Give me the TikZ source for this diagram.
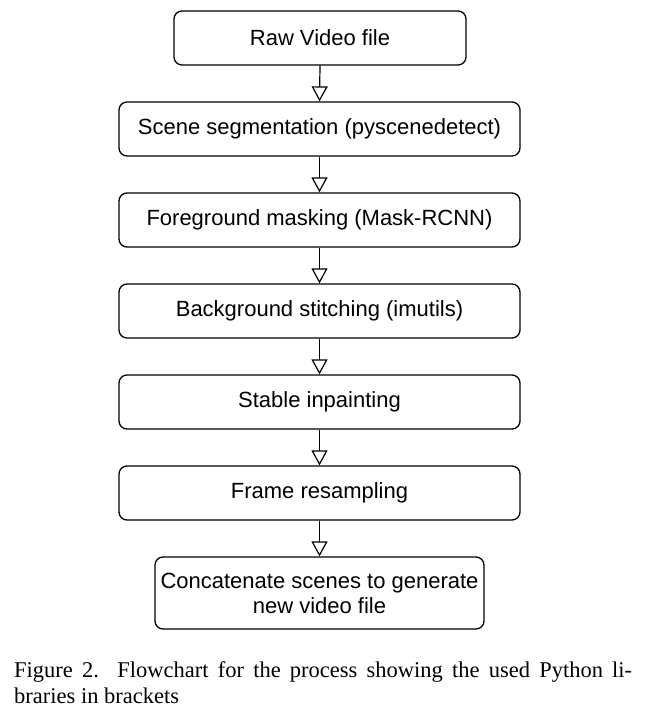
\documentclass[tikz,border=0pt]{standalone}
\usepackage{fontspec}
\setmainfont{Liberation Serif}
\setsansfont{Liberation Sans}
\usetikzlibrary{arrows.meta}
\begin{document}
\begin{tikzpicture}[x=1pt,y=-1pt,
  stepbox/.style={draw, line width=1.3pt, rounded corners=8pt, font=\sffamily\fontsize{22}{25}\selectfont, align=center, inner sep=0pt},
  flow/.style={line width=1.2pt, -{Triangle[open, length=15pt, width=16pt, line width=1.2pt]}}]
\useasboundingbox (0,0) rectangle (645,720);
\node[stepbox, minimum width=292pt, minimum height=54pt] (n1) at (320,38) {Raw Video file};
\node[stepbox, minimum width=401pt, minimum height=54pt] (n2) at (319.5,129) {Scene segmentation (pyscenedetect)};
\node[stepbox, minimum width=401pt, minimum height=54pt] (n3) at (319.5,220) {Foreground masking (Mask-RCNN)};
\node[stepbox, minimum width=401pt, minimum height=54pt] (n4) at (319.5,311) {Background stitching (imutils)};
\node[stepbox, minimum width=401pt, minimum height=54pt] (n5) at (319.5,402) {Stable inpainting};
\node[stepbox, minimum width=401pt, minimum height=54pt] (n6) at (319.5,493) {Frame resampling};
\node[stepbox, minimum width=329pt, minimum height=72pt] (n7) at (319.5,593) {Concatenate scenes to generate\\new video file};
\draw[flow] (n1.south) -- (n2.north);
\draw[flow] (n2.south) -- (n3.north);
\draw[flow] (n3.south) -- (n4.north);
\draw[flow] (n4.south) -- (n5.north);
\draw[flow] (n5.south) -- (n6.north);
\draw[flow] (n6.south) -- (n7.north);
\node[anchor=base west, inner sep=0pt, text width=618pt, align=justify, font=\fontsize{22.5}{26}\selectfont] (cap) at (14,677) {Figure 2.\ \ Flowchart for the process showing the used Python li-\linebreak braries in brackets};
\end{tikzpicture}
\end{document}
